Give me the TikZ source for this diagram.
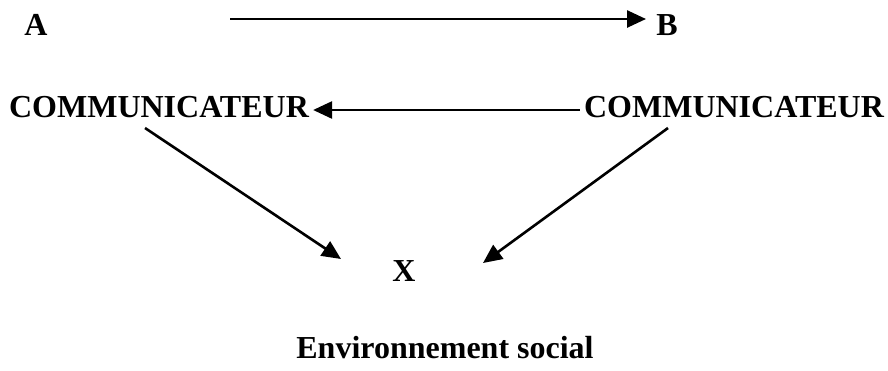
\documentclass[tikz,border=0pt]{standalone}
\usepackage{fontspec}
\setmainfont{Liberation Serif}
\usetikzlibrary{arrows.meta}

\tikzset{
    lab/.style = {inner sep = 4pt, font = \fontsize{32}{38}\selectfont\bfseries},
    arr/.style = {line width = 2.6pt, -{Triangle[length = 19pt, width = 17pt]}}
}

\begin{document}
\begin{tikzpicture}[x = 1pt, y = -1pt]
        \useasboundingbox (0, 0) rectangle (888, 370);
        \node[lab] (a) at (36, 25) {A};
        \node[lab] (b) at (667, 25) {B};
        \node[lab] (com1) at (159, 107) {COMMUNICATEUR};
        \node[lab] (com2) at (734, 107) {COMMUNICATEUR};
        \node[lab] (x) at (404, 271) {X};
        \node[lab] (env) at (445, 348) {Environnement social};
        \coordinate (atail) at (230, 19);
        \coordinate (ahead) at (646, 19);
        \coordinate (l1) at (145, 128);
        \coordinate (l2) at (341, 259);
        \coordinate (r1) at (668, 128);
        \coordinate (r2) at (483, 263);
        \draw[arr] (atail) -- (ahead);
        \draw[arr] ([yshift = -3pt]com2.west) -- ([yshift = -3pt]com1.east);
        \draw[arr] (l1) -- (l2);
        \draw[arr] (r1) -- (r2);
    \end{tikzpicture}
\end{document}
